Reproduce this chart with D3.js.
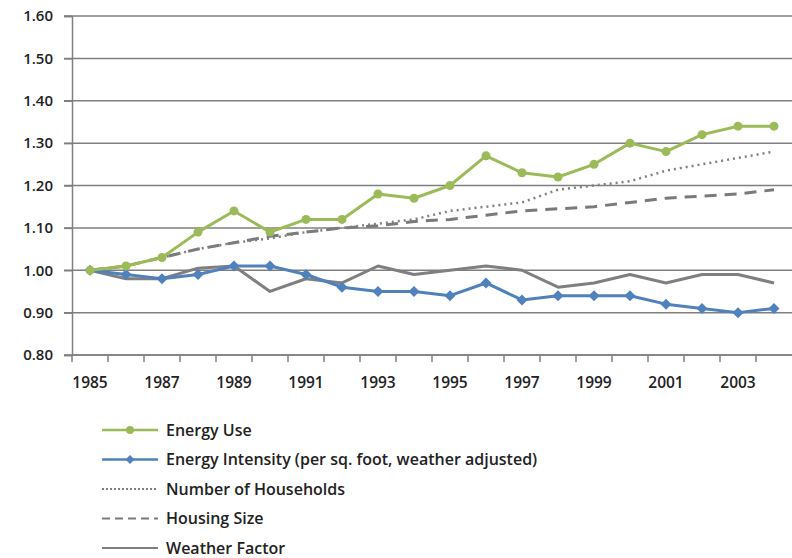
<!DOCTYPE html>
<html>
<head>
<meta charset="utf-8">
<script src="https://cdn.jsdelivr.net/npm/d3@7"></script>
<style>
  body { margin: 0; background: #fff; }
  svg { font-family: "Open Sans", "DejaVu Sans", sans-serif; }
</style>
</head>
<body>
<div class="container"></div>
<script>
// data
var years = [1985, 1986, 1987, 1988, 1989, 1990, 1991, 1992, 1993, 1994,
             1995, 1996, 1997, 1998, 1999, 2000, 2001, 2002, 2003, 2004];
var energyUse = [1.00, 1.01, 1.03, 1.09, 1.14, 1.09, 1.12, 1.12, 1.18, 1.17,
                 1.20, 1.27, 1.23, 1.22, 1.25, 1.30, 1.28, 1.32, 1.34, 1.34];
var energyIntensity = [1.00, 0.99, 0.98, 0.99, 1.01, 1.01, 0.99, 0.96, 0.95, 0.95,
                       0.94, 0.97, 0.93, 0.94, 0.94, 0.94, 0.92, 0.91, 0.90, 0.91];
var households = [1.00, 1.01, 1.03, 1.05, 1.065, 1.075, 1.09, 1.10, 1.11, 1.12,
                  1.14, 1.15, 1.16, 1.19, 1.20, 1.21, 1.235, 1.25, 1.265, 1.28];
var housingSize = [1.00, 1.01, 1.03, 1.05, 1.065, 1.08, 1.09, 1.10, 1.105, 1.115,
                   1.12, 1.13, 1.14, 1.145, 1.15, 1.16, 1.17, 1.175, 1.18, 1.19];
var weatherFactor = [1.00, 0.98, 0.98, 1.005, 1.01, 0.95, 0.98, 0.97, 1.01, 0.99,
                     1.00, 1.01, 1.00, 0.96, 0.97, 0.99, 0.97, 0.99, 0.99, 0.97];
var yTicks = [0.80, 0.90, 1.00, 1.10, 1.20, 1.30, 1.40, 1.50, 1.60];
var xLabels = [1985, 1987, 1989, 1991, 1993, 1995, 1997, 1999, 2001, 2003];

var series = [
    { name: "Energy Use", values: energyUse, color: "#9bbb59", width: 3, dash: null, marker: "circle" },
    { name: "Energy Intensity (per sq. foot, weather adjusted)", values: energyIntensity, color: "#4f81bd", width: 3, dash: null, marker: "diamond" },
    { name: "Number of Households", values: households, color: "#808080", width: 2.5, dash: "2,4", marker: null },
    { name: "Housing Size", values: housingSize, color: "#7a7a7a", width: 3, dash: "12,8", marker: null },
    { name: "Weather Factor", values: weatherFactor, color: "#7f7f7f", width: 3, dash: null, marker: null }
];

var svgWidth = 792;
var svgHeight = 558;
var chartMargin = { top: 16, left: 72, right: 0 };
var plotBottom = 355;

var svg = d3.select(".container")
    .append("svg")
    .attr("width", svgWidth)
    .attr("height", svgHeight);

var xBandScale = d3.scaleBand()
    .domain(years)
    .range([chartMargin.left, svgWidth - chartMargin.right]);

var yLinearScale = d3.scaleLinear()
    .domain([0.80, 1.60])
    .range([plotBottom, chartMargin.top]);

var xc = d => xBandScale(d) + xBandScale.bandwidth() / 2;

// square diamond marker
function diamondPath(r) {
    return `M0,${-r}L${r},0L0,${r}L${-r},0Z`;
}

// gridlines
svg.append("g")
    .selectAll("line")
    .data(yTicks)
    .enter()
    .append("line")
    .attr("x1", chartMargin.left - 8)
    .attr("x2", svgWidth)
    .attr("y1", d => yLinearScale(d))
    .attr("y2", d => yLinearScale(d))
    .attr("stroke", "#7f7f7f")
    .attr("stroke-width", 1.5);

// y axis
var leftAxis = d3.axisLeft(yLinearScale)
    .tickValues(yTicks)
    .tickFormat(d3.format(".2f"))
    .tickSize(8)
    .tickPadding(11);

var yAxisG = svg.append("g")
    .attr("transform", `translate(${chartMargin.left}, 0)`)
    .call(leftAxis);
yAxisG.select(".domain").attr("stroke", "#7f7f7f").attr("stroke-width", 1.5);
yAxisG.selectAll(".tick line").attr("stroke", "#7f7f7f").attr("stroke-width", 1.5);
yAxisG.selectAll("text")
    .attr("font-size", "15px")
    .attr("font-weight", "600")
    .attr("fill", "#222")
    .attr("font-family", "'Open Sans', sans-serif");

// x axis: ticks at category boundaries
svg.append("line")
    .attr("x1", chartMargin.left)
    .attr("x2", svgWidth)
    .attr("y1", plotBottom)
    .attr("y2", plotBottom)
    .attr("stroke", "#7f7f7f")
    .attr("stroke-width", 1.5);

svg.append("g")
    .selectAll("line")
    .data(years)
    .enter()
    .append("line")
    .attr("x1", d => xBandScale(d))
    .attr("x2", d => xBandScale(d))
    .attr("y1", plotBottom)
    .attr("y2", plotBottom + 7)
    .attr("stroke", "#7f7f7f")
    .attr("stroke-width", 1.5);

svg.append("g")
    .selectAll("text")
    .data(xLabels)
    .enter()
    .append("text")
    .attr("x", d => xc(d))
    .attr("y", plotBottom + 33)
    .attr("text-anchor", "middle")
    .attr("font-size", "15.5px")
    .attr("font-weight", "600")
    .attr("fill", "#222")
    .text(d => d);

// lines
var line = d3.line()
    .x((d, i) => xc(years[i]))
    .y(d => yLinearScale(d));

// draw dashed/dotted first so coloured lines sit on top
var drawOrder = [3, 2, 4, 1, 0];
drawOrder.forEach(function (k) {
    var s = series[k];
    svg.append("path")
        .datum(s.values)
        .attr("fill", "none")
        .attr("stroke", s.color)
        .attr("stroke-width", s.width)
        .attr("stroke-dasharray", s.dash)
        .attr("stroke-linejoin", "round")
        .attr("d", line);

    if (s.marker == "circle") {
        svg.append("g")
            .selectAll("circle")
            .data(s.values)
            .enter()
            .append("circle")
            .attr("cx", (d, i) => xc(years[i]))
            .attr("cy", d => yLinearScale(d))
            .attr("r", 4.5)
            .attr("fill", s.color);
    } else if (s.marker == "diamond") {
        svg.append("g")
            .selectAll("path")
            .data(s.values)
            .enter()
            .append("path")
            .attr("d", diamondPath(5.5))
            .attr("transform", (d, i) => `translate(${xc(years[i])}, ${yLinearScale(d)})`)
            .attr("fill", s.color);
    }
});

// legend
var legend = svg.append("g");
var legendRow = 29.5;
series.forEach(function (s, i) {
    var y = 430 + i * legendRow;
    legend.append("line")
        .attr("x1", 102)
        .attr("x2", 158)
        .attr("y1", y)
        .attr("y2", y)
        .attr("stroke", s.color)
        .attr("stroke-width", s.marker ? 2.5 : 2)
        .attr("stroke-dasharray", s.dash == "12,8" ? "8,5" : (s.dash ? "2,2" : null));
    if (s.marker == "circle") {
        legend.append("circle").attr("cx", 130).attr("cy", y).attr("r", 4).attr("fill", s.color);
    } else if (s.marker == "diamond") {
        legend.append("path").attr("d", diamondPath(4.5))
            .attr("transform", `translate(130, ${y})`).attr("fill", s.color);
    }
    legend.append("text")
        .attr("x", 166)
        .attr("y", y + 5.5)
        .attr("font-size", "16px")
        .attr("font-weight", "600")
        .attr("fill", "#222")
        .text(s.name);
});
</script>
</body>
</html>
